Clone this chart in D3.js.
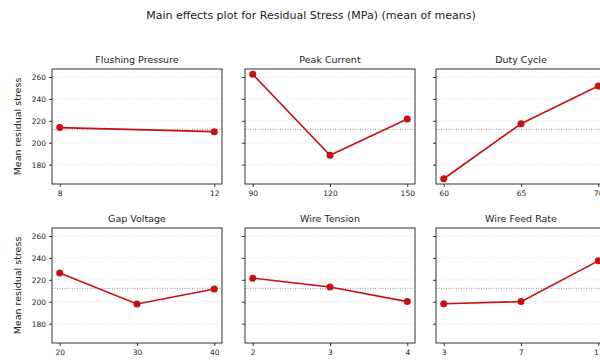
<!DOCTYPE html>
<html>
<head>
<meta charset="utf-8">
<script src="https://cdn.jsdelivr.net/npm/d3@7"></script>
<style>
  body { margin: 0; background: #fff; }
  svg { display: block; font-family: "DejaVu Sans", sans-serif; }
</style>
</head>
<body>
<div id="chart"></div>
<script>
// Factor names, levels and the mean residual stress at each level.
const factors = ["Flushing Pressure", "Peak Current", "Duty Cycle", "Gap Voltage", "Wire Tension", "Wire Feed Rate"];
const levels = [[8, 12], [90, 120, 150], [60, 65, 70], [20, 30, 40], [2, 3, 4], [3, 7, 11]];
const means = [[213.8, 210.1], [262.5, 188.6, 221.6], [167.1, 217.3, 251.7], [226.1, 198.0, 211.6], [221.5, 213.5, 200.1], [198.2, 200.1, 237.3]];
const grandMean = 212.2;
const yTicks = [180, 200, 220, 240, 260];

const width = 600;
const height = 360;
const colLeft = [52, 245, 436];
const rowTop = [69, 228];
const pw = 170;
const ph = 115;

const svg = d3.select("#chart")
  .append("svg")
  .attr("width", width)
  .attr("height", height);

// Title
svg.append("text")
  .attr("x", 311)
  .attr("y", 19)
  .attr("text-anchor", "middle")
  .attr("font-size", 11)
  .attr("fill", "#222")
  .text("Main effects plot for Residual Stress (MPa) (mean of means)");

// Shared y scale (with matplotlib-style 5% margins)
const allVals = means.flat();
const yMin = d3.min(allVals), yMax = d3.max(allVals);
const yPad = (yMax - yMin) * 0.05;

factors.forEach(function(name, i) {
  const row = Math.floor(i / 3), col = i % 3;
  const g = svg.append("g")
    .attr("transform", "translate(" + colLeft[col] + "," + rowTop[row] + ")");

  const lv = levels[i];
  const xPad = (d3.max(lv) - d3.min(lv)) * 0.05;
  const x = d3.scaleLinear()
    .domain([d3.min(lv) - xPad, d3.max(lv) + xPad])
    .range([0, pw]);
  const y = d3.scaleLinear()
    .domain([yMin - yPad, yMax + yPad])
    .range([ph, 0]);

  // grid lines
  g.selectAll(".grid")
    .data(yTicks)
    .enter()
    .append("line")
    .attr("x1", 0)
    .attr("x2", pw)
    .attr("y1", function(d) { return y(d); })
    .attr("y2", function(d) { return y(d); })
    .attr("stroke", "#d8d8d8")
    .attr("stroke-width", 0.8)
    .attr("stroke-dasharray", "1,2");

  // grand mean line
  g.append("line")
    .attr("x1", 0)
    .attr("x2", pw)
    .attr("y1", y(grandMean))
    .attr("y2", y(grandMean))
    .attr("stroke", "#777")
    .attr("stroke-width", 0.8)
    .attr("stroke-dasharray", "1,1.5");

  // axes
  const yAxis = g.append("g")
    .call(d3.axisLeft(y).tickValues(yTicks).tickSize(3).tickPadding(3)
      .tickFormat(col === 0 ? d3.format("d") : ""));
  const xAxis = g.append("g")
    .attr("transform", "translate(0," + ph + ")")
    .call(d3.axisBottom(x).tickValues(lv).tickSize(3).tickPadding(4)
      .tickFormat(d3.format("d")));
  [yAxis, xAxis].forEach(function(a) {
    a.select(".domain").remove();
    a.selectAll("line").attr("stroke", "#333");
    a.selectAll("text").attr("font-size", 7.5).attr("fill", "#222")
      .attr("font-family", "DejaVu Sans, sans-serif");
  });

  // frame
  g.append("rect")
    .attr("width", pw)
    .attr("height", ph)
    .attr("fill", "none")
    .attr("stroke", "#333")
    .attr("stroke-width", 1);

  // line and markers
  const pts = lv.map(function(d, j) { return [d, means[i][j]]; });
  g.append("path")
    .datum(pts)
    .attr("fill", "none")
    .attr("stroke", "#c81010")
    .attr("stroke-width", 1.6)
    .attr("d", d3.line()
      .x(function(d) { return x(d[0]); })
      .y(function(d) { return y(d[1]); }));
  g.selectAll(".pt")
    .data(pts)
    .enter()
    .append("circle")
    .attr("cx", function(d) { return x(d[0]); })
    .attr("cy", function(d) { return y(d[1]); })
    .attr("r", 3.5)
    .attr("fill", "#c81010");

  // panel title
  g.append("text")
    .attr("x", pw / 2)
    .attr("y", -6)
    .attr("text-anchor", "middle")
    .attr("font-size", 9.5)
    .attr("fill", "#222")
    .text(name);

  // y label
  if (col === 0) {
    g.append("text")
      .attr("transform", "translate(-31," + (ph / 2) + ") rotate(-90)")
      .attr("text-anchor", "middle")
      .attr("font-size", 9.5)
      .attr("fill", "#222")
      .text("Mean residual stress");
  }
});
</script>
</body>
</html>
